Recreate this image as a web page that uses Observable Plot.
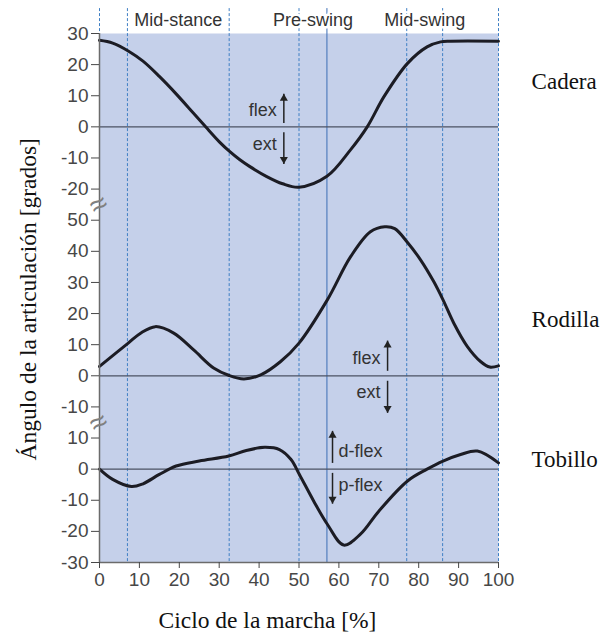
<!DOCTYPE html>
<html><head><meta charset="utf-8">
<script src="https://cdn.jsdelivr.net/npm/d3@7"></script>
<script src="https://cdn.jsdelivr.net/npm/@observablehq/plot@0.6"></script>
<style>body{margin:0;background:#fff}</style>
</head><body><div id="chart"></div>
<script>
// ---- data ----
const hipX   = [0, 3.3, 7.3, 10.9, 15, 19.2, 23.4, 26.6, 30.1, 32.6, 35.1, 37.6, 41.8, 45.9, 50, 57, 62.9, 67.1, 71.3, 77.2, 82.1, 85.5, 88, 100];
const hipY   = [27.8, 26.9, 24.3, 21.1, 16.2, 10.6, 4.6, 0, -4.9, -7.9, -10.5, -12.7, -15.9, -18.3, -19.4, -15.9, -7.4, 0, 9.7, 20.4, 25.7, 27.3, 27.5, 27.5];
const kneeX  = [0, 7.2, 10.3, 14, 18.6, 23.6, 28.6, 32.5, 36.2, 40.4, 45.4, 50, 57.1, 62.9, 67.9, 71.5, 74, 77.1, 80.5, 83.8, 86.1, 88.8, 92.2, 95.5, 97.8, 100];
const kneeY  = [3, 10.5, 13.7, 15.8, 13.7, 8.3, 2.5, 0.1, -1, 0.3, 4.6, 10.5, 24.4, 38.2, 46.3, 47.9, 47.3, 43, 37.2, 30.2, 24.4, 16.9, 9.4, 4.6, 2.8, 3.2];
const ankleX = [0, 3.3, 8, 10.9, 15, 19.2, 25, 32.4, 36.8, 41.4, 45.1, 48, 50.1, 53.7, 57.1, 61.2, 65.4, 70, 77.2, 82.1, 86.1, 90.5, 94.7, 100];
const ankleY = [0, -3.3, -5.6, -4.7, -1.7, 1, 2.6, 4.2, 6, 7, 6.3, 3.1, -1.7, -10.3, -17.7, -24.4, -20.9, -13.5, -3.8, 0, 2.6, 4.7, 5.8, 2];

const phaseDashed = [0, 7, 32.5, 50, 77, 86, 100];
const toeOff = [57];
const phaseLabels = ["Mid-stance", "Pre-swing", "Mid-swing"];
const phaseLabelX = [19.75, 53.5, 81.5];
const joints = ["Cadera", "Rodilla", "Tobillo"];

const hipTicks   = [30, 20, 10, 0, -10, -20];
const kneeTicks  = [50, 40, 30, 20, 10, 0, -10];
const ankleTicks = [10, 0, -10, -20, -30];
const xTicks = [0, 10, 20, 30, 40, 50, 60, 70, 80, 90, 100];

// ---- stacked panel layout: each joint gets a band on one shared position scale ----
const off = {hip: 30, knee: 110, ankle: 140};
const toV = (joint, val) => off[joint] - val;

const rows = [
  ...hipX.map((x, i) => ({x, v: toV("hip", hipY[i]), joint: "hip"})),
  ...kneeX.map((x, i) => ({x, v: toV("knee", kneeY[i]), joint: "knee"})),
  ...ankleX.map((x, i) => ({x, v: toV("ankle", ankleY[i]), joint: "ankle"}))
];

const tickMap = new Map();
hipTicks.forEach(t => tickMap.set(toV("hip", t), t));
kneeTicks.forEach(t => tickMap.set(toV("knee", t), t));
ankleTicks.forEach(t => tickMap.set(toV("ankle", t), t));
const yTickVals = [...tickMap.keys()];

const ups = [
  {x: 46.2, y1: 28.8, y2: 19.4},
  {x: 72.2, y1: 108.4, y2: 98.7},
  {x: 58.4, y1: 138, y2: 127.7}
];
const downs = [
  {x: 46.2, y1: 31.7, y2: 41.9},
  {x: 72.2, y1: 111.6, y2: 121.9},
  {x: 58.4, y1: 141.2, y2: 151.1}
];

const sans = "Liberation Sans, Arial, Helvetica, sans-serif";
const serif = "Liberation Serif, Times New Roman, serif";

const chart = Plot.plot({
  width: 604,
  height: 636,
  marginLeft: 99,
  marginRight: 106,
  marginTop: 33,
  marginBottom: 74,
  style: {fontFamily: sans, background: "white", overflow: "visible"},
  x: {domain: [0, 100], axis: null},
  y: {domain: [170, 0], axis: null},
  marks: [
    Plot.frame({fill: "#c5d0ea", stroke: "none"}),
    Plot.ruleX(phaseDashed, {y1: -8, y2: 170, stroke: "#3f7fc4", strokeWidth: 1, strokeDasharray: "3,2"}),
    Plot.ruleX(toeOff, {y1: -8, y2: 170, stroke: "#3d6db5", strokeWidth: 1}),
    Plot.ruleY([off.hip, off.knee, off.ankle], {x1: 0, x2: 100, stroke: "#4b5263", strokeWidth: 1.2}),
    Plot.line(rows, {x: "x", y: "v", z: "joint", curve: "catmull-rom", stroke: "#1c1c24", strokeWidth: 3}),
    Plot.ruleX([0], {y1: 0, y2: 170, stroke: "#6b6b6b", strokeWidth: 1.5}),
    Plot.ruleY([170], {x1: 0, x2: 100, stroke: "#6b6b6b", strokeWidth: 1.5}),
    Plot.axisY(yTickVals, {tickFormat: d => String(tickMap.get(d)), tickSize: 8, tickPadding: 3, fontSize: 19, color: "#474747", label: null}),
    Plot.axisX(xTicks, {tickSize: 6, tickPadding: 4, fontSize: 19, color: "#474747", label: null}),
    Plot.text([55, 125], {x: 0, y: d => d, text: () => "≈", rotate: -30, fontSize: 30, fill: "#808080", dx: -1}),
    Plot.text(phaseLabels, {x: (d, i) => phaseLabelX[i], y: -4.3, text: d => d, fontSize: 18, fill: "#333", stroke: "white", strokeWidth: 5}),
    Plot.text(joints, {x: 108.3, y: (d, i) => [15.6, 91.8, 136.8][i], text: d => d, textAnchor: "start", fontFamily: serif, fontSize: 23, fill: "#111"}),
    Plot.text(["flex", "ext"], {x: 44.4, y: (d, i) => [24.5, 35.5][i], text: d => d, textAnchor: "end", fontSize: 18, fill: "#333"}),
    Plot.text(["flex", "ext"], {x: 70.4, y: (d, i) => [104.5, 115.4][i], text: d => d, textAnchor: "end", fontSize: 18, fill: "#333"}),
    Plot.text(["d-flex", "p-flex"], {x: 59.9, y: (d, i) => [134.1, 145.3][i], text: d => d, textAnchor: "start", fontSize: 18, fill: "#333"}),
    Plot.link([...ups, ...downs], {x1: "x", x2: "x", y1: "y1", y2: "y2", stroke: "#222", strokeWidth: 1.5}),
    Plot.dot(ups, {x: "x", y: "y2", symbol: "triangle", r: 3, fill: "#222", dy: 4.6}),
    Plot.dot(downs, {x: "x", y: "y2", symbol: "triangle", r: 3, fill: "#222", rotate: 180, dy: -4.6}),
    Plot.text(["Ángulo de la articulación [grados]"], {x: -17.8, y: 85.4, text: d => d, rotate: -90, fontFamily: serif, fontSize: 23.5, fill: "#111"}),
    Plot.text(["Ciclo de la marcha [%]"], {x: 42.1, y: 188.7, text: d => d, fontFamily: serif, fontSize: 23.5, fill: "#111"})
  ]
});
document.getElementById("chart").appendChild(chart);
</script>
</body></html>
